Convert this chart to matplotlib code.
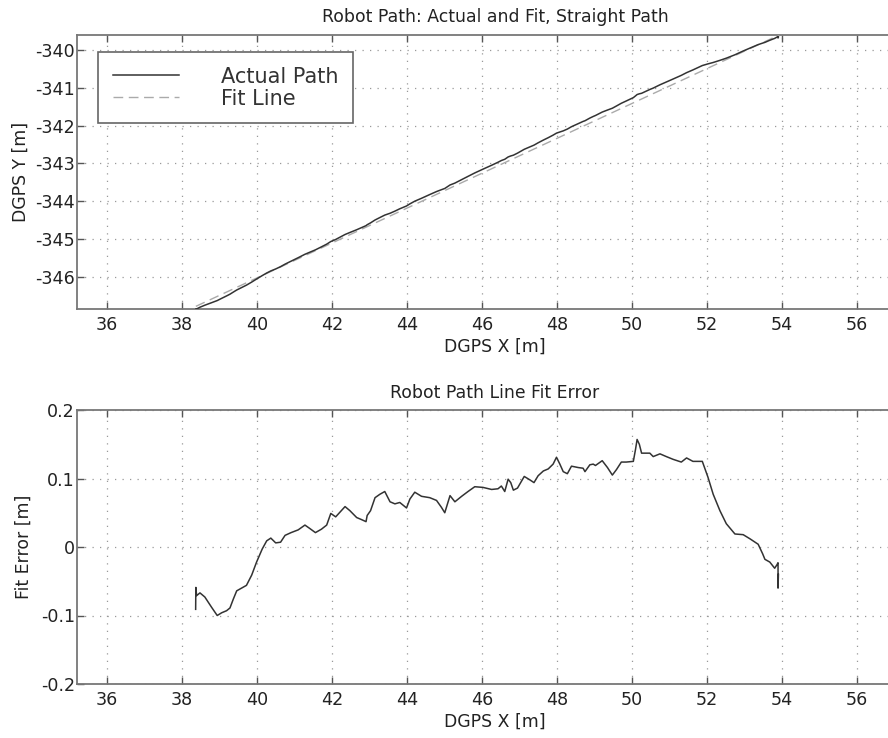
import numpy as np
import matplotlib
matplotlib.use("Agg")
import matplotlib.pyplot as plt
from matplotlib.ticker import FuncFormatter

plt.rcParams['font.family'] = ['DejaVu Sans']
plt.rcParams['axes.unicode_minus'] = False

# ---- data ----
fit_x = [38.37, 53.93]
fit_y = [-346.78, -339.60]

err_x = [38.365, 38.37, 38.39, 38.48, 38.61, 38.79, 38.94, 39.06, 39.19, 39.28,
         39.37, 39.46, 39.59, 39.72, 39.86, 39.99, 40.14, 40.26, 40.37, 40.50,
         40.63, 40.75, 40.91, 41.10, 41.28, 41.41, 41.56, 41.72, 41.86, 41.97,
         42.10, 42.35, 42.48, 42.66, 42.79, 42.91, 42.94, 43.03, 43.15, 43.28,
         43.41, 43.55, 43.68, 43.81, 43.99, 44.08, 44.21, 44.39, 44.61, 44.79,
         44.92, 45.01, 45.15, 45.28, 45.46, 45.63, 45.81, 46.03, 46.26, 46.43,
         46.52, 46.61, 46.70, 46.77, 46.84, 46.95, 47.13, 47.28, 47.39, 47.50,
         47.64, 47.77, 47.90, 47.99, 48.08, 48.17, 48.28, 48.39, 48.57, 48.70,
         48.75, 48.88, 48.97, 49.03, 49.21, 49.35, 49.48, 49.59, 49.72, 49.85,
         50.04, 50.10, 50.14, 50.20, 50.26, 50.48, 50.57, 50.75, 50.92, 51.10,
         51.32, 51.46, 51.63, 51.88, 52.03, 52.17, 52.35, 52.52, 52.75, 52.97,
         53.15, 53.37, 53.49, 53.55, 53.68, 53.81, 53.87, 53.90, 53.90, 53.91]
err_y = [-0.091, -0.059, -0.071, -0.067, -0.073, -0.088, -0.100, -0.096, -0.093, -0.089,
         -0.076, -0.064, -0.060, -0.056, -0.041, -0.022, -0.003, 0.009, 0.013, 0.006,
         0.007, 0.017, 0.021, 0.025, 0.032, 0.027, 0.021, 0.026, 0.032, 0.049,
         0.044, 0.059, 0.053, 0.043, 0.040, 0.037, 0.046, 0.053, 0.072, 0.077,
         0.081, 0.066, 0.063, 0.065, 0.057, 0.070, 0.080, 0.074, 0.072, 0.068,
         0.058, 0.050, 0.075, 0.066, 0.074, 0.081, 0.088, 0.087, 0.084, 0.085,
         0.089, 0.081, 0.099, 0.094, 0.083, 0.086, 0.103, 0.098, 0.094, 0.104,
         0.111, 0.114, 0.121, 0.131, 0.121, 0.110, 0.107, 0.118, 0.116, 0.115,
         0.110, 0.120, 0.121, 0.119, 0.126, 0.116, 0.105, 0.113, 0.124, 0.124,
         0.125, 0.143, 0.157, 0.150, 0.137, 0.137, 0.132, 0.136, 0.132, 0.128,
         0.124, 0.130, 0.125, 0.125, 0.102, 0.077, 0.053, 0.034, 0.019, 0.018,
         0.012, 0.004, -0.010, -0.018, -0.022, -0.031, -0.026, -0.023, -0.060, -0.040]

x_ticks = [36, 38, 40, 42, 44, 46, 48, 50, 52, 54, 56]
y_ticks_top = [-346, -345, -344, -343, -342, -341, -340]
y_ticks_bot = [-0.2, -0.1, 0, 0.1, 0.2]

# actual path = fit line + perpendicular error (vertical component)
slope = (fit_y[1] - fit_y[0]) / (fit_x[1] - fit_x[0])
ex = np.array(err_x)
ey = np.array(err_y)
path_y = fit_y[0] + slope * (ex - fit_x[0]) + ey * np.sqrt(1 + slope ** 2)

W, H = 888, 738
fig = plt.figure(figsize=(W / 100, H / 100), dpi=100)
fig.patch.set_facecolor('white')

def px_axes(l, t, r, b):
    return fig.add_axes([l / W, 1 - b / H, (r - l) / W, (b - t) / H])

ax1 = px_axes(77, 35, 913, 309)
ax2 = px_axes(77, 410, 913, 684)

line_col = '#333333'
spine_col = '#777777'
fs = 12.4
tfs = 12.6

for ax in (ax1, ax2):
    ax.set_xlim(35.2, 57.5)
    ax.set_xticks(x_ticks)
    ax.grid(True, color='#999999', linestyle=(0, (1, 5)), linewidth=0.9)
    ax.tick_params(direction='in', top=True, right=True, length=5,
                   width=1, color='#555555', labelsize=tfs, labelcolor='#222222')
    ax.tick_params(axis='x', pad=5)
    ax.tick_params(axis='y', pad=1.5)
    for s in ax.spines.values():
        s.set_color(spine_col)
        s.set_linewidth(1.3)

# top plot
ax1.plot(fit_x, fit_y, color='#aaaaaa', linestyle=(0, (7, 4)), linewidth=1.0,
         label='Fit Line', zorder=3)
ax1.plot(ex, path_y, color=line_col, linewidth=1.1, label='Actual Path', zorder=4)
ax1.set_ylim(-346.85, -339.6)
ax1.set_yticks(y_ticks_top)
ax1.yaxis.set_major_formatter(FuncFormatter(lambda v, p: '{:g}'.format(v)))
ax1.set_title('Robot Path: Actual and Fit, Straight Path', fontsize=fs,
              color='#222222', pad=9)
ax1.set_xlabel('DGPS X [m]', fontsize=fs, color='#222222', labelpad=3)
ax1.set_ylabel('DGPS Y [m]', fontsize=fs, color='#222222', labelpad=4)
h, l = ax1.get_legend_handles_labels()
leg = ax1.legend([h[1], h[0]], [l[1], l[0]], loc='upper left',
                 bbox_to_anchor=(21 / 836, 1 - 17 / 274),
                 fontsize=15, fancybox=False, framealpha=1,
                 edgecolor='#666666', handlelength=3.2, handletextpad=2.0,
                 borderpad=0.7, labelspacing=0.1, borderaxespad=0)
leg.get_frame().set_linewidth(1.2)
for t in leg.get_texts():
    t.set_color('#333333')
leg.set_zorder(10)

# bottom plot
ax2.plot(ex, ey, color=line_col, linewidth=1.1)
ax2.set_ylim(-0.2, 0.2)
ax2.set_yticks(y_ticks_bot)
ax2.yaxis.set_major_formatter(FuncFormatter(lambda v, p: '{:g}'.format(round(v, 3))))
ax2.set_title('Robot Path Line Fit Error', fontsize=fs, color='#222222', pad=9)
ax2.set_xlabel('DGPS X [m]', fontsize=fs, color='#222222', labelpad=3)
ax2.set_ylabel('Fit Error [m]', fontsize=fs, color='#222222', labelpad=6)

fig.savefig('out.png', dpi=100, facecolor='white')
